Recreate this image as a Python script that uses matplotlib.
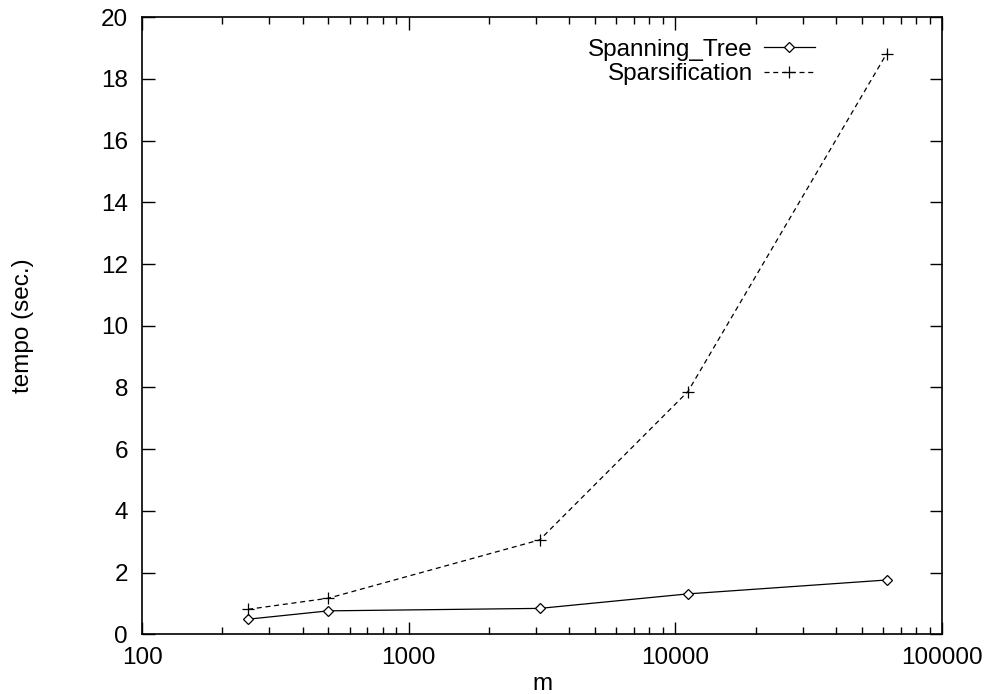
import matplotlib
matplotlib.use("Agg")
import matplotlib.pyplot as plt
from matplotlib.ticker import LogLocator, FixedLocator, NullFormatter

plt.rcParams["font.family"] = ["Liberation Sans", "DejaVu Sans"]

m_values = [250, 500, 3100, 11150, 62000]
spanning_tree = [0.49, 0.76, 0.84, 1.31, 1.76]
sparsification = [0.81, 1.17, 3.06, 7.87, 18.82]

FS = 17.5

fig = plt.figure(figsize=(9.85, 6.94), dpi=100)
ax = fig.add_axes([142 / 985, 1 - 634.3 / 694, 800 / 985, 617 / 694])

ax.plot(m_values, spanning_tree, color="black", linewidth=0.9, marker="D",
        markersize=5.5, markerfacecolor="white", markeredgewidth=0.9,
        label="Spanning_Tree")
ax.plot(m_values, sparsification, color="black", linewidth=0.9, linestyle=(0, (4, 3)),
        marker="+", markersize=9, markeredgewidth=0.9, label="Sparsification")

ax.set_xscale("log")
ax.set_xlim(100, 100000)
ax.set_ylim(0, 20)
ax.yaxis.set_major_locator(FixedLocator(range(0, 21, 2)))
ax.xaxis.set_major_locator(FixedLocator([100, 1000, 10000, 100000]))
ax.set_xticklabels(["100", "1000", "10000", "100000"])
ax.xaxis.set_minor_locator(LogLocator(base=10, subs=range(2, 10)))
ax.xaxis.set_minor_formatter(NullFormatter())

ax.tick_params(which="both", direction="in", top=True, right=True, labelsize=FS,
               width=1.0)
ax.tick_params(which="major", length=9)
ax.tick_params(which="minor", length=5)
ax.tick_params(axis="x", pad=9)
ax.tick_params(axis="y", pad=10)
for s in ax.spines.values():
    s.set_linewidth(1.2)

ax.set_xlabel("m", fontsize=FS, labelpad=3)
ax.set_ylabel("tempo (sec.)", fontsize=FS, labelpad=48)

leg = ax.legend(loc="upper right", bbox_to_anchor=(0.841, 0.965), frameon=False,
                fontsize=FS, markerfirst=False, handlelength=2.1,
                handletextpad=0.45, labelspacing=0.1, borderaxespad=0,
                borderpad=0)
for t in leg.get_texts():
    t.set_ha("right")

fig.savefig("out.png", dpi=100)
